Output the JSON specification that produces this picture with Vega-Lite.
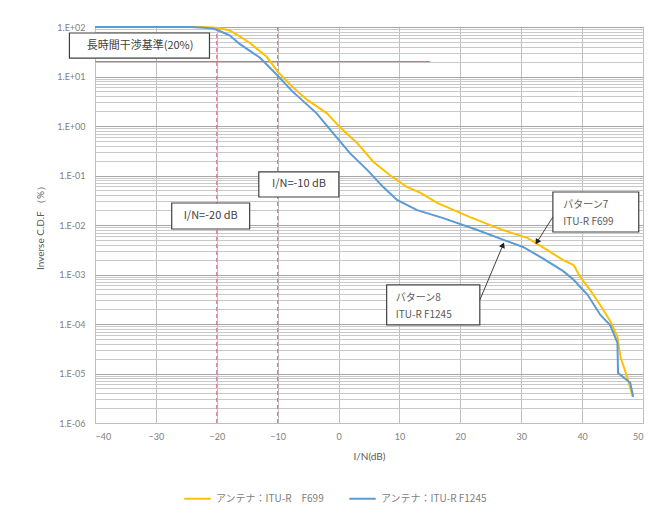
{
  "$schema": "https://vega.github.io/schema/vega-lite/v6.json",
  "autosize": {"type": "none"},
  "padding": {"left": 95, "top": 27, "right": 6, "bottom": 83},
  "width": 548,
  "height": 396,
  "background": "white",
  "config": {
    "font": "Lato",
    "view": {"stroke": "#bfbfbf"},
    "legend": {
      "orient": "none",
      "legendX": 88,
      "legendY": 457,
      "direction": "horizontal",
      "symbolType": "stroke",
      "symbolStrokeWidth": 2,
      "symbolSize": 700,
      "labelFontSize": 10,
      "labelColor": "#808080",
      "labelFont": "Noto Sans CJK JP",
      "columnPadding": 20
    }
  },
  "datasets": {
    "curves": [
      {"series": "アンテナ：ITU-R　F699", "x": -40, "y": 100},
      {"series": "アンテナ：ITU-R　F699", "x": -30, "y": 100},
      {"series": "アンテナ：ITU-R　F699", "x": -25, "y": 100},
      {"series": "アンテナ：ITU-R　F699", "x": -22.8, "y": 99.5},
      {"series": "アンテナ：ITU-R　F699", "x": -20.7, "y": 98},
      {"series": "アンテナ：ITU-R　F699", "x": -19.5, "y": 94},
      {"series": "アンテナ：ITU-R　F699", "x": -17.9, "y": 85},
      {"series": "アンテナ：ITU-R　F699", "x": -16.7, "y": 70},
      {"series": "アンテナ：ITU-R　F699", "x": -14.6, "y": 48},
      {"series": "アンテナ：ITU-R　F699", "x": -11.8, "y": 25},
      {"series": "アンテナ：ITU-R　F699", "x": -10, "y": 12.5},
      {"series": "アンテナ：ITU-R　F699", "x": -7.6, "y": 6.2},
      {"series": "アンテナ：ITU-R　F699", "x": -5.2, "y": 3.4},
      {"series": "アンテナ：ITU-R　F699", "x": -1.9, "y": 1.8},
      {"series": "アンテナ：ITU-R　F699", "x": 0.2, "y": 0.95},
      {"series": "アンテナ：ITU-R　F699", "x": 3.0, "y": 0.46},
      {"series": "アンテナ：ITU-R　F699", "x": 5.7, "y": 0.19},
      {"series": "アンテナ：ITU-R　F699", "x": 8.5, "y": 0.10},
      {"series": "アンテナ：ITU-R　F699", "x": 11.2, "y": 0.059},
      {"series": "アンテナ：ITU-R　F699", "x": 13.4, "y": 0.045},
      {"series": "アンテナ：ITU-R　F699", "x": 16.2, "y": 0.028},
      {"series": "アンテナ：ITU-R　F699", "x": 21.6, "y": 0.0144},
      {"series": "アンテナ：ITU-R　F699", "x": 27.0, "y": 0.0079},
      {"series": "アンテナ：ITU-R　F699", "x": 31.0, "y": 0.0055},
      {"series": "アンテナ：ITU-R　F699", "x": 34.3, "y": 0.0031},
      {"series": "アンテナ：ITU-R　F699", "x": 36.9, "y": 0.00195},
      {"series": "アンテナ：ITU-R　F699", "x": 38.6, "y": 0.00155},
      {"series": "アンテナ：ITU-R　F699", "x": 39.7, "y": 0.00089},
      {"series": "アンテナ：ITU-R　F699", "x": 41.3, "y": 0.00049},
      {"series": "アンテナ：ITU-R　F699", "x": 43.0, "y": 0.00024},
      {"series": "アンテナ：ITU-R　F699", "x": 44.6, "y": 0.000115},
      {"series": "アンテナ：ITU-R　F699", "x": 45.8, "y": 0.000055},
      {"series": "アンテナ：ITU-R　F699", "x": 46.3, "y": 0.0000215},
      {"series": "アンテナ：ITU-R　F699", "x": 47.4, "y": 0.0000085},
      {"series": "アンテナ：ITU-R　F699", "x": 48.3, "y": 0.0000034},
      {"series": "アンテナ：ITU-R F1245", "x": -40, "y": 100},
      {"series": "アンテナ：ITU-R F1245", "x": -30, "y": 100},
      {"series": "アンテナ：ITU-R F1245", "x": -26, "y": 100},
      {"series": "アンテナ：ITU-R F1245", "x": -24.4, "y": 99.5},
      {"series": "アンテナ：ITU-R F1245", "x": -22, "y": 97},
      {"series": "アンテナ：ITU-R F1245", "x": -20.7, "y": 93},
      {"series": "アンテナ：ITU-R F1245", "x": -20, "y": 88},
      {"series": "アンテナ：ITU-R F1245", "x": -17.9, "y": 68},
      {"series": "アンテナ：ITU-R F1245", "x": -16.2, "y": 45},
      {"series": "アンテナ：ITU-R F1245", "x": -12.9, "y": 24},
      {"series": "アンテナ：ITU-R F1245", "x": -10.1, "y": 10.7},
      {"series": "アンテナ：ITU-R F1245", "x": -7.5, "y": 4.9},
      {"series": "アンテナ：ITU-R F1245", "x": -6.4, "y": 3.7},
      {"series": "アンテナ：ITU-R F1245", "x": -3.6, "y": 1.8},
      {"series": "アンテナ：ITU-R F1245", "x": -0.9, "y": 0.72},
      {"series": "アンテナ：ITU-R F1245", "x": 1.9, "y": 0.28},
      {"series": "アンテナ：ITU-R F1245", "x": 4.7, "y": 0.13},
      {"series": "アンテナ：ITU-R F1245", "x": 7.3, "y": 0.059},
      {"series": "アンテナ：ITU-R F1245", "x": 9.6, "y": 0.032},
      {"series": "アンテナ：ITU-R F1245", "x": 12.9, "y": 0.020},
      {"series": "アンテナ：ITU-R F1245", "x": 17.2, "y": 0.0138},
      {"series": "アンテナ：ITU-R F1245", "x": 22.8, "y": 0.0079},
      {"series": "アンテナ：ITU-R F1245", "x": 27.1, "y": 0.0050},
      {"series": "アンテナ：ITU-R F1245", "x": 30.3, "y": 0.0036},
      {"series": "アンテナ：ITU-R F1245", "x": 33.6, "y": 0.0021},
      {"series": "アンテナ：ITU-R F1245", "x": 36.9, "y": 0.00117},
      {"series": "アンテナ：ITU-R F1245", "x": 38.6, "y": 0.00078},
      {"series": "アンテナ：ITU-R F1245", "x": 40.9, "y": 0.00039},
      {"series": "アンテナ：ITU-R F1245", "x": 43.0, "y": 0.000152},
      {"series": "アンテナ：ITU-R F1245", "x": 44.6, "y": 0.000095},
      {"series": "アンテナ：ITU-R F1245", "x": 45.8, "y": 0.000042},
      {"series": "アンテナ：ITU-R F1245", "x": 45.9, "y": 0.0000102},
      {"series": "アンテナ：ITU-R F1245", "x": 47.9, "y": 0.0000065},
      {"series": "アンテナ：ITU-R F1245", "x": 48.4, "y": 0.0000034}
    ],
    "vlines": [
      {"x": -20, "y": 0.000001, "y2": 100},
      {"x": -10, "y": 0.000001, "y2": 100}
    ],
    "hlines": [
      {"x": -40, "x2": 15, "y": 20}
    ],
    "boxes": [
      {"id": "b1", "x": -44.2, "x2": -21.2, "y": 75.6, "y2": 23.6},
      {"id": "b10", "x": -13.1, "x2": 0.05, "y": 0.118, "y2": 0.0368},
      {"id": "b20", "x": -27.4, "x2": -14.6, "y": 0.0278, "y2": 0.0083},
      {"id": "b7", "x": 35.2, "x2": 49.3, "y": 0.0464, "y2": 0.00722},
      {"id": "b8", "x": 7.9, "x2": 23.2, "y": 0.00062, "y2": 0.000096}
    ],
    "ctexts": [
      {"label": "長時間干渉基準(20%)", "x": -32.6, "y": 41.3},
      {"label": "I/N=-10 dB", "x": -6.5, "y": 0.066},
      {"label": "I/N=-20 dB", "x": -21.0, "y": 0.0152}
    ],
    "ltexts": [
      {"label": "パターン7", "x": 36.9, "y": 0.0253},
      {"label": "ITU-R F699", "x": 36.9, "y": 0.0115},
      {"label": "パターン8", "x": 9.4, "y": 0.000335},
      {"label": "ITU-R F1245", "x": 9.4, "y": 0.000152}
    ],
    "arrows": [
      {"id": "a7", "x": 35.2, "y": 0.01452, "x2": 32.6, "y2": 0.00454},
      {"id": "a8", "x": 23.2, "y": 0.000305, "x2": 27.0, "y2": 0.00394}
    ],
    "heads": [
      {"id": "a7", "x": 32.6, "y": 0.00454},
      {"id": "a8", "x": 27.0, "y": 0.00394}
    ]
  },
  "encoding": {
    "x": {
      "field": "x",
      "type": "quantitative",
      "scale": {"domain": [-40, 50], "nice": false, "zero": false},
      "axis": {
        "title": "I/N(dB)",
        "values": [-40, -30, -20, -10, 0, 10, 20, 30, 40, 50],
        "grid": true,
        "gridColor": "#bfbfbf",
        "ticks": false,
        "domainColor": "#bfbfbf",
        "labelColor": "#808080",
        "labelFontSize": 9,
        "labelPadding": 9,
        "titleColor": "#595959",
        "titleFontSize": 10,
        "titleFontWeight": "normal",
        "titlePadding": 10
      }
    },
    "y": {
      "field": "y",
      "type": "quantitative",
      "scale": {"type": "log", "domain": [0.000001, 100], "nice": false},
      "axis": {
        "title": "Inverse C.D.F （%）",
        "values": [1e-6, 2e-6, 3e-6, 4e-6, 5e-6, 6e-6, 7e-6, 8e-6, 9e-6,
                   1e-5, 2e-5, 3e-5, 4e-5, 5e-5, 6e-5, 7e-5, 8e-5, 9e-5,
                   1e-4, 2e-4, 3e-4, 4e-4, 5e-4, 6e-4, 7e-4, 8e-4, 9e-4,
                   0.001, 0.002, 0.003, 0.004, 0.005, 0.006, 0.007, 0.008, 0.009,
                   0.01, 0.02, 0.03, 0.04, 0.05, 0.06, 0.07, 0.08, 0.09,
                   0.1, 0.2, 0.3, 0.4, 0.5, 0.6, 0.7, 0.8, 0.9,
                   1, 2, 3, 4, 5, 6, 7, 8, 9,
                   10, 20, 30, 40, 50, 60, 70, 80, 90, 100],
        "labelExpr": "abs(log(datum.value)/LN10 - round(log(datum.value)/LN10)) < 0.001 ? '1.E' + (round(log(datum.value)/LN10) >= 0 ? '+' : '-') + '0' + abs(round(log(datum.value)/LN10)) : ''",
        "grid": true,
        "gridColor": {"condition": {"test": "abs(log(datum.value)/LN10 - round(log(datum.value)/LN10)) < 0.001", "value": "#a6a6a6"}, "value": "#c9c9c9"},
        "ticks": false,
        "domain": false,
        "labelColor": "#808080",
        "labelFontSize": 9,
        "labelPadding": 10,
        "labelOverlap": false,
        "titleColor": "#595959",
        "titleFontSize": 10,
        "titleFontWeight": "normal",
        "titlePadding": 11
      }
    }
  },
  "layer": [
    {
      "data": {"name": "vlines"},
      "mark": {"type": "rule", "color": "#d9607a", "strokeWidth": 1, "strokeDash": [4, 3]},
      "encoding": {"y2": {"field": "y2"}}
    },
    {
      "data": {"name": "hlines"},
      "mark": {"type": "rule", "color": "#e05a7a", "strokeWidth": 1},
      "encoding": {"x2": {"field": "x2"}}
    },
    {
      "data": {"name": "curves"},
      "mark": {"type": "line", "strokeWidth": 2},
      "encoding": {
        "color": {
          "field": "series",
          "type": "nominal",
          "scale": {"domain": ["アンテナ：ITU-R　F699", "アンテナ：ITU-R F1245"], "range": ["#FFC000", "#5B9BD5"]},
          "sort": null,
          "legend": {"title": null}
        }
      }
    },
    {
      "data": {"name": "boxes"},
      "mark": {"type": "rect", "fill": "white", "stroke": "#404040", "strokeWidth": 1.2},
      "encoding": {"x2": {"field": "x2"}, "y2": {"field": "y2"}}
    },
    {
      "data": {"name": "ctexts"},
      "mark": {"type": "text", "font": "Noto Sans CJK JP", "fontSize": 11, "color": "#404040", "align": "center", "baseline": "middle"},
      "encoding": {"text": {"field": "label"}}
    },
    {
      "data": {"name": "ltexts"},
      "mark": {"type": "text", "font": "Noto Sans CJK JP", "fontSize": 10, "color": "#595959", "align": "left", "baseline": "middle"},
      "encoding": {"text": {"field": "label"}}
    },
    {
      "data": {"name": "arrows"},
      "mark": {"type": "rule", "color": "#404040", "strokeWidth": 1},
      "encoding": {"x2": {"field": "x2"}, "y2": {"field": "y2"}}
    },
    {
      "data": {"name": "heads"},
      "transform": [{"filter": "datum.id == 'a7'"}],
      "mark": {"type": "point", "shape": "triangle-up", "filled": true, "color": "#202020", "size": 40, "angle": 212, "opacity": 1}
    },
    {
      "data": {"name": "heads"},
      "transform": [{"filter": "datum.id == 'a8'"}],
      "mark": {"type": "point", "shape": "triangle-up", "filled": true, "color": "#202020", "size": 40, "angle": 23, "opacity": 1}
    }
  ]
}
